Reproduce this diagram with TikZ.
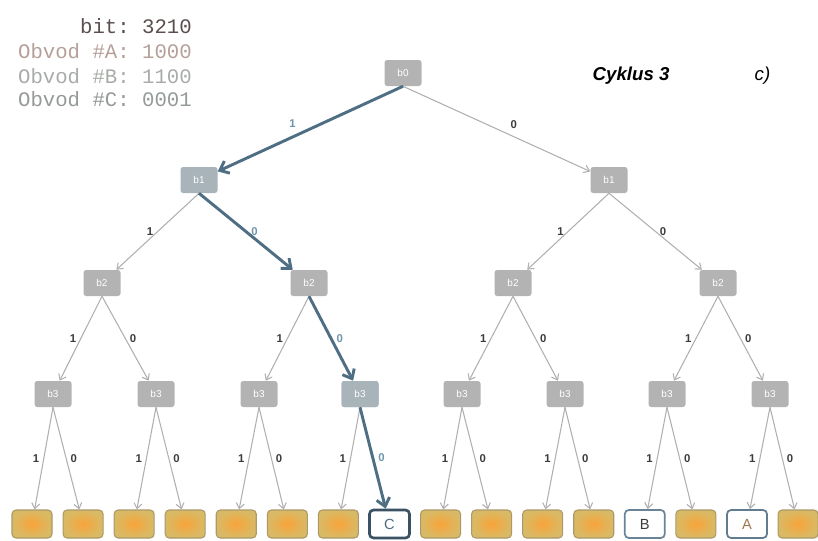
\documentclass[tikz,border=0pt]{standalone}
\usepackage{fontspec}
\setsansfont{Liberation Sans}
\setmonofont{Liberation Mono}
\usepackage{xcolor}
\usetikzlibrary{arrows.meta}
\definecolor{boxgray}{HTML}{B3B3B3}
\definecolor{boxblue}{HTML}{A9B3BA}
\definecolor{edgegray}{HTML}{B0B0B0}
\definecolor{pathblue}{HTML}{4E6E84}
\definecolor{lblgray}{HTML}{3C3C3C}
\definecolor{hotlblcol}{HTML}{6E94AA}
\definecolor{leafin}{HTML}{F8A43A}
\definecolor{leafout}{HTML}{D8BA66}
\definecolor{leafedge}{HTML}{AC9868}
\definecolor{bitcol}{HTML}{5A4E4E}
\definecolor{acol}{HTML}{B4A098}
\definecolor{bcol}{HTML}{A8ACA8}
\definecolor{ccol}{HTML}{949A98}
\tikzset{
  bitbox/.style={rectangle, rounded corners=2pt, fill=boxgray, text=white,
    font=\sffamily\fontsize{7.5}{7.5}\selectfont, minimum width=27.75pt,
    minimum height=19.5pt, inner sep=1pt},
  leafbox/.style={rectangle, rounded corners=3pt, draw=leafedge, line width=0.8pt,
    inner color=leafin, outer color=leafout, minimum width=30pt, minimum height=21pt},
  hitbox/.style={rectangle, rounded corners=3pt, draw=#1, fill=white, line width=1.6pt,
    minimum width=30pt, minimum height=21pt, font=\sffamily\fontsize{11}{11}\selectfont},
  branch/.style={draw=edgegray, line width=0.8pt, -{Straight Barb[length=4pt,width=6pt]}},
  hotbranch/.style={draw=pathblue, line width=2.2pt, -{Straight Barb[length=6pt,width=10pt]}},
  bitlbl/.style={font=\sffamily\bfseries\fontsize{8.5}{8.5}\selectfont, text=lblgray, inner sep=3pt},
  hotlbl/.style={bitlbl, text=hotlblcol},
  legend/.style={anchor=east, font=\ttfamily\fontsize{15.5}{15.5}\selectfont, inner sep=0pt}
}

\begin{document}
\begin{tikzpicture}[x=0.75pt, y=-0.75pt]
  \useasboundingbox (0,0) rectangle (818,540);

  % legend and title
  \node[legend, text=bitcol] (lbit) at (192,26) {bit: 3210};
  \node[legend, text=acol] (la) at (192,51) {Obvod \#A: 1000};
  \node[legend, text=bcol] (lb) at (192,76) {Obvod \#B: 1100};
  \node[legend, text=ccol] (lc) at (192,99) {Obvod \#C: 0001};
  \node[anchor=west, font=\sffamily\bfseries\itshape\fontsize{14}{14}\selectfont] (cyk) at (588,76) {Cyklus 3};
  \node[anchor=west, font=\sffamily\itshape\fontsize{14}{14}\selectfont] (part) at (750,76) {c)};

  % decision nodes
  \node[bitbox] (n0) at (403,73) {b0};
  \node[bitbox, fill=boxblue] (n1-1) at (199,180) {b1};
  \node[bitbox] (n1-2) at (609,180) {b1};
  \foreach \x [count=\j] in {102,309,513,718}
    \node[bitbox] (n2-\j) at (\x,283) {b2};
  \foreach \x [count=\j] in {53,156,259,360,462,565,667,770}
    \node[bitbox] (n3-\j) at (\x,394) {b3};
  \node[bitbox, fill=boxblue] at (n3-4) {b3};

  % leaves
  \foreach \j in {1,...,16} {
    \pgfmathsetmacro\x{32+51.07*(\j-1)}
    \ifnum\j=8 \else\ifnum\j=13 \else\ifnum\j=15 \else
      \node[leafbox] (leaf\j) at (\x,524) {};
    \fi\fi\fi
  }
  \node[hitbox=pathblue!75!black, line width=2pt, text=pathblue] (leaf8) at (389.5,524) {C};
  \node[hitbox=pathblue!85, line width=1.3pt, text=lblgray] (leaf13) at (644.8,524) {B};
  \node[hitbox=pathblue!90, line width=1.3pt, text={rgb,255:red,160;green,120;blue,80}] (leaf15) at (747,524) {A};

  % branches
  \draw[branch] (n0.south) -- node[bitlbl, pos=0.55, above right] {0} (n1-2);
  \draw[branch] (n1-1.south) -- node[bitlbl, left] {1} (n2-1);
  \draw[branch] (n1-2.south) -- node[bitlbl, left] {1} (n2-3);
  \draw[branch] (n1-2.south) -- node[bitlbl, right] {0} (n2-4);
  \foreach \j in {1,...,8} {
    \pgfmathtruncatemacro\p{ceil(\j/2)}
    \ifnum\j=4 \else
      \ifodd\j \draw[branch] (n2-\p.south) -- node[bitlbl, left] {1} (n3-\j);
      \else \draw[branch] (n2-\p.south) -- node[bitlbl, right] {0} (n3-\j); \fi
    \fi
  }
  \foreach \j in {1,...,16} {
    \pgfmathtruncatemacro\p{ceil(\j/2)}
    \ifnum\j=8 \else
      \ifodd\j \draw[branch] (n3-\p.south) -- node[bitlbl, left] {1} (leaf\j);
      \else \draw[branch] (n3-\p.south) -- node[bitlbl, right] {0} (leaf\j); \fi
    \fi
  }

  % the path of this cycle
  \draw[hotbranch] (n0.south) -- node[hotlbl, pos=0.55, above left] {1} (n1-1);
  \draw[hotbranch] (n1-1.south) -- node[hotlbl, right] {0} (n2-2);
  \draw[hotbranch] (n2-2.south) -- node[hotlbl, right] {0} (n3-4);
  \draw[hotbranch] (n3-4.south) -- node[hotlbl, right] {0} (leaf8);
\end{tikzpicture}
\end{document}
